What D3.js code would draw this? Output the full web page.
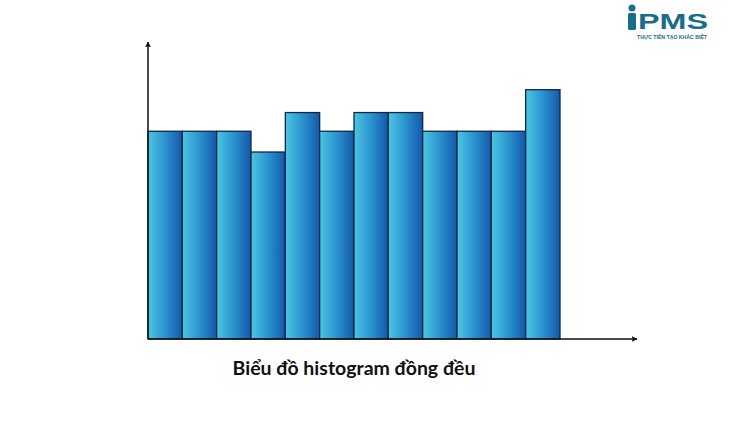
<!DOCTYPE html>
<html><head><meta charset="utf-8">
<script src="https://cdn.jsdelivr.net/npm/d3@7"></script>
<style>body{margin:0;background:#fff}svg{display:block}</style>
</head><body>
<svg id="c" width="750" height="421"></svg>
<script>
const bins = ["1","2","3","4","5","6","7","8","9","10","11","12"];
const counts = [10,10,10,9,10.9,10,10.9,10.9,10,10,10,12];
const title = "Biểu đồ histogram đồng đều";

const svg = d3.select("#c");
const x0 = 148, x1 = 560, yBase = 339;
const x = d3.scaleBand().domain(bins).range([x0, x1]).padding(0);
const y = d3.scaleLinear().domain([0, 12]).range([yBase, 89.7]);

const defs = svg.append("defs");
const g = defs.append("linearGradient").attr("id","bg").attr("x1","0").attr("x2","1").attr("y1","0").attr("y2","0");
g.append("stop").attr("offset","0").attr("stop-color","#4cc6e2");
g.append("stop").attr("offset","0.5").attr("stop-color","#2a93cf");
g.append("stop").attr("offset","1").attr("stop-color","#1457a8");
const m = defs.append("marker").attr("id","ar").attr("viewBox","0 0 10 10").attr("refX",9).attr("refY",5)
  .attr("markerWidth",6).attr("markerHeight",6).attr("orient","auto-start-reverse").attr("markerUnits","userSpaceOnUse");
m.append("path").attr("d","M0,0 L10,5 L0,10 L2,5 Z").attr("fill","#111");

svg.selectAll("rect.bar").data(counts).join("rect").attr("class","bar")
  .attr("x",(d,i)=>x(bins[i])).attr("width",x.bandwidth())
  .attr("y",d=>y(d)).attr("height",d=>yBase-y(d))
  .attr("fill","url(#bg)").attr("stroke","#0b2a45").attr("stroke-width",1.3);

svg.append("line").attr("x1",x0).attr("x2",x0).attr("y1",yBase).attr("y2",42)
  .attr("stroke","#111").attr("stroke-width",1.5).attr("marker-end","url(#ar)");
svg.append("line").attr("x1",x0).attr("x2",637).attr("y1",yBase).attr("y2",yBase)
  .attr("stroke","#111").attr("stroke-width",1.5).attr("marker-end","url(#ar)");

svg.append("text").attr("x",354).attr("y",375).attr("text-anchor","middle")
  .attr("font-family","Lato, 'Open Sans', sans-serif").attr("font-weight","bold")
  .attr("font-size",19.5).attr("fill","#111").text(title);

// logo
const lg = svg.append("g").attr("fill","#1a6d89");
lg.append("circle").attr("cx",632).attr("cy",8).attr("r",3.5);
lg.append("rect").attr("x",628).attr("y",13).attr("width",8).attr("height",17).attr("rx",1.5);
lg.append("text").attr("x",638).attr("y",29).attr("font-family","'Liberation Sans', Arial, sans-serif")
  .attr("font-weight","bold").attr("font-size",22).attr("textLength",70).attr("lengthAdjust","spacingAndGlyphs").text("PMS");
lg.append("text").attr("x",637).attr("y",39).attr("font-family","'Liberation Sans', Arial, sans-serif")
  .attr("font-weight","bold").attr("font-size",5).attr("textLength",70).attr("lengthAdjust","spacingAndGlyphs").text("THỰC TIỄN TẠO KHÁC BIỆT");
</script>
</body></html>
